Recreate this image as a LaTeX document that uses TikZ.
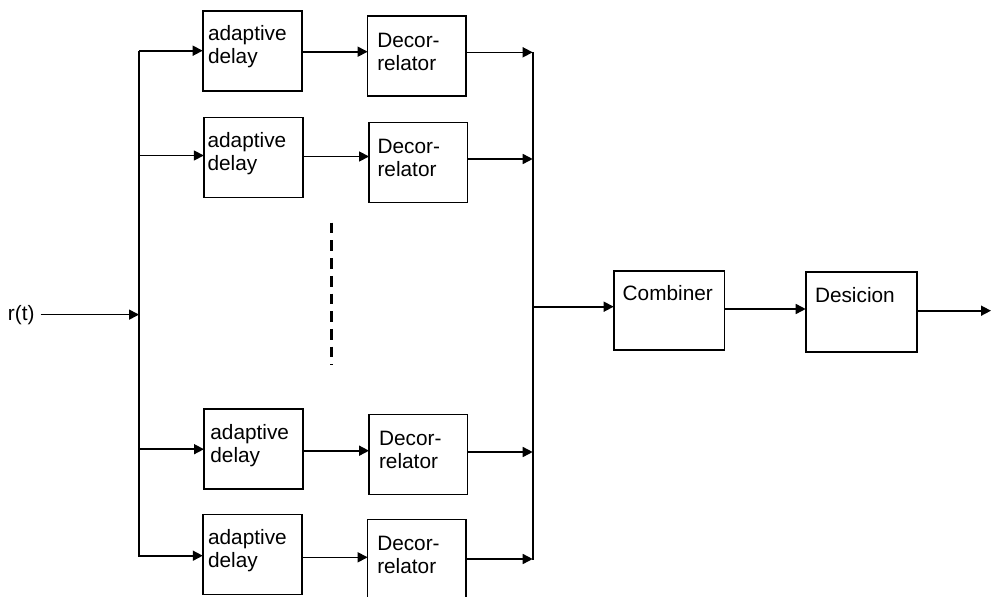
\documentclass[tikz,border=0pt]{standalone}
\usepackage{fontspec}
\setmainfont{Liberation Sans}
\usetikzlibrary{arrows.meta,calc}

% two lines of text whose baseline is the baseline of the first line
\newcommand{\stacklines}[2]{\vtop{\baselineskip=22.7pt\hbox{#1}\hbox{#2}}}

\begin{document}
\begin{tikzpicture}[x=1pt,y=-1pt,
  blk/.style={draw, line width=1.6pt, minimum width=99pt, minimum height=80pt,
              inner sep=0pt, outer sep=0pt},
  lbl/.style={anchor=base west, inner sep=0pt, outer sep=0pt,
              font=\fontsize{20.8}{22.7}\selectfont},
  wire/.style={line width=1.6pt},
  arr/.style={wire, -{Triangle[length=10pt,width=10pt]}},
  gapline/.style={line width=2.6pt, dash pattern=on 10.7pt off 7pt}]

\useasboundingbox (0,0) rectangle (991,597);

% adaptive delay blocks
\node[blk] (ad1) at (252.2,50.7) {};
\node[blk] (ad2) at (253.3,157.5) {};
\node[blk] (ad3) at (253.5,449.2) {};
\node[blk] (ad4) at (252.3,554.3) {};
\node[lbl] (ad1t) at ($(ad1.north west)+(5.3,30)$) {\stacklines{adaptive}{delay}};
\node[lbl] (ad2t) at ($(ad2.north west)+(3.8,30)$) {\stacklines{adaptive}{delay}};
\node[lbl] (ad3t) at ($(ad3.north west)+(6.4,30.5)$) {\stacklines{adaptive}{delay}};
\node[lbl] (ad4t) at ($(ad4.north west)+(5.3,30.5)$) {\stacklines{adaptive}{delay}};

% decorrelator blocks
\node[blk, minimum width=98.3pt] (d1) at (416.8,55.7) {};
\node[blk, minimum width=98.3pt] (d2) at (418.2,162.3) {};
\node[blk, minimum width=98.3pt] (d3) at (418.2,454.3) {};
\node[blk, minimum width=98.3pt] (d4) at (416.8,559.3) {};
\node[lbl] (d1t) at ($(d1.north west)+(9.6,31.6)$) {\stacklines{Decor-}{relator}};
\node[lbl] (d2t) at ($(d2.north west)+(8.5,31)$) {\stacklines{Decor-}{relator}};
\node[lbl] (d3t) at ($(d3.north west)+(10,31)$) {\stacklines{Decor-}{relator}};
\node[lbl] (d4t) at ($(d4.north west)+(9.6,31)$) {\stacklines{Decor-}{relator}};

% combiner and decision
\node[blk, minimum width=110.6pt, minimum height=79pt] (comb) at (669,310.2) {};
\node[blk, minimum width=111pt] (des) at (861.2,312) {};
\node[lbl] (combt) at ($(comb.north west)+(9,30)$) {Combiner};
\node[lbl] (dest) at ($(des.north west)+(9.3,30.7)$) {Desicion};

% input signal
\node[lbl] (rt) at (8,320) {r(t)};

% splitting and collecting buses
\coordinate (lbtop) at (139,50.7);
\coordinate (lbbot) at (139,557);
\coordinate (rbtop) at (532.7,52.3);
\coordinate (rbbot) at (532.7,559.5);
\coordinate (o1) at (532.7,52.3);
\coordinate (o2) at (532.7,159);
\coordinate (o3) at (532.7,452);
\coordinate (o4) at (532.7,559);
\coordinate (out) at (991,310.7);

\draw[wire] (lbtop) -- (lbbot);
\draw[wire] (rbtop) -- (rbbot);

\draw[arr] ([xshift=6pt]rt.east) -- (rt.east -| lbtop);

% bus to delay blocks
\draw[arr] (ad1.west -| lbtop) -- (ad1.west);
\draw[arr] ([yshift=2pt]ad2.west -| lbtop) -- ([yshift=2pt]ad2.west);
\draw[arr] (ad3.west -| lbtop) -- (ad3.west);
\draw[arr] ([yshift=-1.4pt]ad4.west -| lbtop) -- ([yshift=-1.4pt]ad4.west);

% delay to decorrelator
\draw[arr] ([yshift=-1pt]ad1.east) -- ([yshift=-1pt]ad1.east -| d1.west);
\draw[arr] ([yshift=1pt]ad2.east) -- ([yshift=1pt]ad2.east -| d2.west);
\draw[arr] ([yshift=-1.5pt]ad3.east) -- ([yshift=-1.5pt]ad3.east -| d3.west);
\draw[arr] ([yshift=-3pt]ad4.east) -- ([yshift=-3pt]ad4.east -| d4.west);

% decorrelator to collecting bus
\draw[arr] (o1 -| d1.east) -- (o1);
\draw[arr] (o2 -| d2.east) -- (o2);
\draw[arr] (o3 -| d3.east) -- (o3);
\draw[arr] (o4 -| d4.east) -- (o4);

% combining and decision chain
\draw[arr] ([yshift=3.5pt]comb.west -| rbtop) -- ([yshift=3.5pt]comb.west);
\draw[arr] ([yshift=1.2pt]comb.east) -- ([yshift=1.2pt]comb.east -| des.west);
\draw[arr] ([yshift=1.3pt]des.east) -- (out);

% omitted branches
\coordinate (gtop) at (331.5,222.7);
\coordinate (gbot) at (331.5,365);
\draw[gapline] (gtop) -- (gbot);

\end{tikzpicture}
\end{document}
